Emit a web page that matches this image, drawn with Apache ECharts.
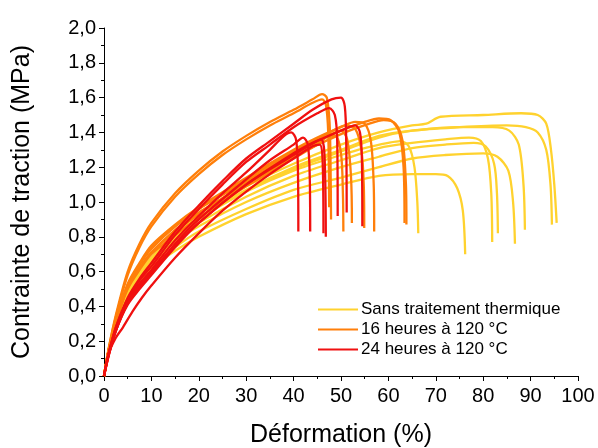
<!DOCTYPE html>
<html>
<head>
<meta charset="utf-8">
<script src="https://cdn.jsdelivr.net/npm/echarts@6/dist/echarts.min.js"></script>
<style>html,body{margin:0;padding:0;background:#fff}#c{width:598px;height:448px}</style>
</head>
<body>
<div id="c"></div>
<script>
// Tick labels
const xTicks = [0,10,20,30,40,50,60,70,80,90,100];
const yTicks = ['0,0','0,2','0,4','0,6','0,8','1,0','1,2','1,4','1,6','1,8','2,0'];
const groupNames = ['Sans traitement thermique', '16 heures à 120 °C', '24 heures à 120 °C'];

// Sans traitement thermique (yellow) : [strain %, stress MPa]
const yellowA = [[0,0],[1,0.15],[2.5,0.31],[5,0.49],[7.5,0.60],[10,0.68],[15,0.82],[20,0.93],[30,1.09],[40,1.22],[50,1.33],[58,1.40],[65,1.44],[68,1.45],[71,1.49],[80,1.50],[88,1.51],[91.5,1.50],[93.3,1.45],[94.3,1.30],[95.0,1.10],[95.5,0.88]];
const yellowB = [[0,0],[1,0.15],[2.5,0.30],[5,0.48],[7.5,0.58],[10,0.66],[15,0.79],[20,0.90],[30,1.06],[40,1.19],[50,1.29],[58,1.37],[65,1.41],[75,1.43],[85,1.44],[89,1.43],[91.5,1.40],[93.3,1.30],[94.2,1.10],[94.5,0.87]];
const yellowC = [[0,0],[1,0.15],[2.5,0.31],[5,0.49],[7.5,0.59],[10,0.67],[15,0.80],[20,0.91],[30,1.07],[40,1.20],[50,1.30],[58,1.38],[65,1.41],[75,1.43],[82,1.43],[85.5,1.41],[87.5,1.33],[88.5,1.10],[88.8,0.84]];
const yellowD = [[0,0],[1,0.14],[2.5,0.29],[5,0.47],[7.5,0.57],[10,0.65],[15,0.78],[20,0.88],[30,1.03],[40,1.15],[50,1.24],[58,1.31],[65,1.34],[72,1.36],[77,1.37],[79.5,1.35],[81,1.25],[81.7,1.05],[81.9,0.77]];
const yellowE = [[0,0],[1,0.14],[2.5,0.29],[5,0.46],[7.5,0.56],[10,0.64],[15,0.77],[20,0.86],[30,1.00],[40,1.11],[50,1.20],[58,1.26],[65,1.31],[72,1.33],[78,1.34],[80.5,1.32],[82.3,1.22],[82.9,1.05],[83.1,0.82]];
const yellowF = [[0,0],[1,0.14],[2.5,0.28],[5,0.45],[7.5,0.55],[10,0.63],[15,0.74],[20,0.83],[30,0.96],[40,1.07],[50,1.14],[58,1.20],[65,1.25],[72,1.27],[80,1.28],[83,1.26],[85.3,1.18],[86.3,1.00],[86.7,0.76]];
const yellowG = [[0,0],[1,0.14],[2.5,0.28],[5,0.44],[7.5,0.54],[10,0.62],[15,0.72],[20,0.80],[30,0.93],[40,1.03],[50,1.10],[58,1.15],[65,1.16],[70,1.16],[72.5,1.15],[74.5,1.08],[75.7,0.95],[76.2,0.70]];
const yellowH = [[0,0],[1,0.15],[2.5,0.31],[5,0.49],[7.5,0.60],[10,0.68],[15,0.81],[20,0.91],[30,1.06],[40,1.18],[50,1.27],[55,1.31],[60,1.34],[62.5,1.35],[64.3,1.32],[65.5,1.20],[66.1,1.00],[66.3,0.82]];

// 16 heures à 120 °C (orange)
const orangeA = [[0,0],[1,0.16],[2.5,0.35],[5,0.60],[7.5,0.76],[10,0.88],[15,1.05],[20,1.18],[25,1.29],[30,1.38],[35,1.46],[40,1.53],[44,1.59],[46,1.62],[47,1.60],[47.6,1.45],[47.8,1.20],[47.9,0.90]];
const orangeB = [[0,0],[1,0.16],[2.5,0.34],[5,0.58],[7.5,0.74],[10,0.86],[15,1.03],[20,1.16],[25,1.27],[30,1.36],[35,1.44],[40,1.51],[44,1.57],[46,1.59],[46.8,1.56],[47.3,1.40],[47.5,0.97]];
const orangeC = [[0,0],[1,0.15],[2.5,0.32],[5,0.52],[7.5,0.64],[10,0.73],[15,0.86],[20,0.96],[25,1.04],[30,1.12],[35,1.20],[40,1.28],[45,1.35],[50,1.41],[55,1.46],[58,1.48],[60.5,1.47],[62.3,1.40],[63.2,1.20],[63.4,0.88]];
const orangeD = [[0,0],[1,0.15],[2.5,0.31],[5,0.51],[7.5,0.62],[10,0.71],[15,0.84],[20,0.94],[30,1.10],[40,1.26],[50,1.39],[56,1.45],[59,1.47],[61.5,1.45],[63,1.35],[63.7,1.10],[63.8,0.87]];
const orangeE = [[0,0],[1,0.15],[2.5,0.32],[5,0.53],[7.5,0.65],[10,0.75],[15,0.87],[20,0.97],[30,1.14],[40,1.30],[45,1.37],[50,1.43],[53,1.46],[55,1.45],[56.3,1.35],[56.9,1.10],[57.0,0.83]];
const orangeF = [[0,0],[1,0.15],[2.5,0.32],[5,0.52],[7.5,0.64],[10,0.74],[15,0.86],[20,0.96],[30,1.13],[40,1.29],[45,1.36],[49,1.42],[51,1.44],[53,1.42],[54.3,1.30],[54.8,1.10],[54.9,0.85]];
const orangeG = [[0,0],[1,0.15],[2.5,0.31],[5,0.51],[7.5,0.62],[10,0.71],[15,0.83],[20,0.93],[30,1.11],[40,1.27],[45,1.34],[48,1.39],[50,1.41],[51.3,1.36],[52.1,1.15],[52.3,0.88]];
const orangeH = [[0,0],[1,0.15],[2.5,0.31],[5,0.50],[7.5,0.61],[10,0.70],[15,0.81],[20,0.91],[30,1.09],[40,1.25],[45,1.33],[47.5,1.38],[48.8,1.38],[50,1.28],[50.4,1.05],[50.5,0.83]];

// 24 heures à 120 °C (red)
const redA = [[0,0],[1,0.13],[2.5,0.28],[5,0.45],[7.5,0.56],[10,0.65],[15,0.83],[20,0.98],[25,1.12],[30,1.25],[35,1.35],[40,1.45],[44,1.53],[48,1.59],[50,1.60],[50.8,1.55],[51.1,1.35],[51.2,0.94]];
const redB = [[0,0],[1,0.13],[2.5,0.28],[5,0.44],[7.5,0.55],[10,0.63],[15,0.81],[20,0.96],[25,1.10],[30,1.23],[35,1.33],[40,1.43],[45,1.51],[47.5,1.54],[48.7,1.50],[49.2,1.35],[49.3,0.92]];
const redC = [[0,0],[1,0.13],[2.5,0.27],[5,0.43],[7.5,0.53],[10,0.61],[15,0.78],[20,0.92],[25,1.05],[30,1.17],[35,1.30],[38,1.38],[39.5,1.40],[40.5,1.36],[40.9,1.20],[41.0,0.83]];
const redD = [[0,0],[1,0.12],[2.5,0.26],[5,0.42],[7.5,0.51],[10,0.59],[15,0.76],[20,0.90],[30,1.13],[35,1.24],[40,1.33],[42,1.37],[43,1.33],[43.4,1.15],[43.5,0.83]];
const redE = [[0,0],[1,0.13],[2.5,0.22],[4,0.28],[6,0.37],[8,0.45],[10,0.52],[15,0.68],[20,0.82],[25,0.95],[30,1.06],[35,1.16],[40,1.25],[44,1.32],[45.5,1.33],[46.1,1.25],[46.3,0.82]];
const redF = [[0,0],[1,0.12],[2.5,0.26],[5,0.41],[7.5,0.50],[10,0.58],[15,0.74],[20,0.88],[30,1.10],[40,1.28],[44,1.34],[45.8,1.36],[46.5,1.28],[46.8,0.80]];
const redG = [[0,0],[1,0.12],[2.5,0.26],[5,0.42],[7.5,0.52],[10,0.60],[15,0.75],[20,0.88],[30,1.10],[40,1.27],[45,1.35],[50,1.41],[53,1.44],[54,1.40],[54.4,1.25],[54.5,0.86]];

const yellowSet = [yellowA, yellowB, yellowC, yellowD, yellowE, yellowF, yellowG, yellowH];
const orangeSet = [orangeA, orangeB, orangeC, orangeD, orangeE, orangeF, orangeG, orangeH];
const redSet = [redA, redB, redC, redD, redE, redF, redG];
const colors = ['#FFD22E', '#FF7F0A', '#F01010'];

const series = [];
[yellowSet, orangeSet, redSet].forEach((set, gi) => {
  set.forEach(d => {
    series.push({
      type: 'line', name: groupNames[gi], data: d, showSymbol: false, symbol: 'none',
      smooth: 0.3, lineStyle: { color: colors[gi], width: 2.3 }, itemStyle: { color: colors[gi] },
      emphasis: { disabled: true }, animation: false
    });
  });
});

const chart = echarts.init(document.getElementById('c'), null, { renderer: 'canvas' });
const fontFam = 'Liberation Sans, Arial, sans-serif';
chart.setOption({
  animation: false,
  backgroundColor: '#fff',
  grid: { left: 104, right: 20, top: 28, bottom: 72, containLabel: false, outerBoundsMode: 'none' },
  legend: {
    data: groupNames, orient: 'vertical', left: 313, top: 296, itemWidth: 40, itemHeight: 2,
    itemGap: 3, icon: 'rect', itemStyle: { borderWidth: 0 },
    textStyle: { fontFamily: fontFam, fontSize: 17, color: '#000', padding: [0,0,0,-2] }
  },
  xAxis: {
    type: 'value', min: 0, max: 100, interval: 10,
    name: 'Déformation (%)', nameLocation: 'middle', nameGap: 47,
    nameTextStyle: { fontFamily: fontFam, fontSize: 25, color: '#000' },
    axisLine: { lineStyle: { color: '#000', width: 1 } },
    axisTick: { inside: false, length: 5, lineStyle: { color: '#000' } },
    minorTick: { show: true, splitNumber: 2, length: 3, lineStyle: { color: '#000' } },
    splitLine: { show: false },
    axisLabel: { fontFamily: fontFam, fontSize: 20, color: '#000', margin: 10,
      formatter: v => xTicks.includes(v) ? String(v) : '' }
  },
  yAxis: {
    type: 'value', min: 0, max: 2, interval: 0.2,
    name: 'Contrainte de traction (MPa)', nameLocation: 'middle', nameGap: 69, nameRotate: 90,
    nameTextStyle: { fontFamily: fontFam, fontSize: 25, color: '#000' },
    axisLine: { show: true, lineStyle: { color: '#000', width: 1 } },
    axisTick: { show: true, inside: false, length: 5, lineStyle: { color: '#000' } },
    minorTick: { show: true, splitNumber: 2, length: 3, lineStyle: { color: '#000' } },
    splitLine: { show: false },
    axisLabel: { fontFamily: fontFam, fontSize: 20, color: '#000', margin: 8,
      formatter: v => yTicks[Math.round(v / 0.2)] }
  },
  series: series
});
</script>
</body>
</html>
